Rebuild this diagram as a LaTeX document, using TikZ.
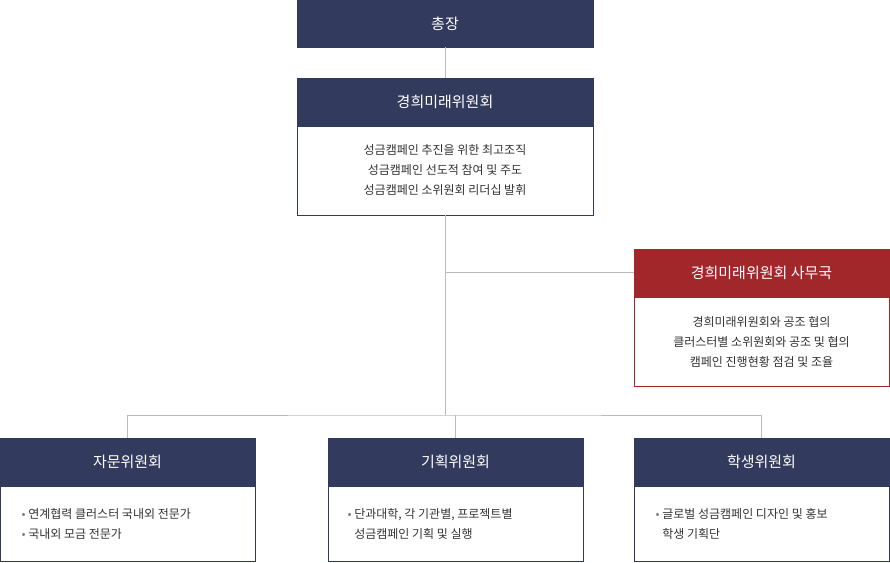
\documentclass[tikz,border=0pt]{standalone}
\usepackage{fontspec}
\setmainfont{Noto Sans CJK KR}
\definecolor{navy}{HTML}{323B5E}
\definecolor{redh}{HTML}{A1272B}
\definecolor{ln}{HTML}{BBBBBB}
\definecolor{tx}{HTML}{333333}
\begin{document}
\begin{tikzpicture}[x=1pt,y=-1pt,
 hdr/.style={draw=navy,fill=navy,text=white,font=\fontsize{15}{18}\selectfont,inner sep=0pt},
 bdy/.style={draw=navy,fill=white,text=tx,font=\fontsize{12}{20}\selectfont,inner sep=0pt},
 con/.style={draw=ln,line width=0.8pt}]
\useasboundingbox (0,0) rectangle (890,562);
% top
\node[hdr,minimum width=296,minimum height=47] (pres) at (445,23.5) {총장};
\node[hdr,minimum width=296,minimum height=48] (fh) at (445,102) {경희미래위원회};
\node[bdy,minimum width=296,minimum height=89,align=center] (fb) at (445,170.5) {성금캠페인 추진을 위한 최고조직\\성금캠페인 선도적 참여 및 주도\\성금캠페인 소위원회 리더십 발휘};
\node[hdr,draw=redh,fill=redh,minimum width=255,minimum height=48] (sh) at (761.5,273) {경희미래위원회 사무국};
\node[bdy,draw=redh,minimum width=255,minimum height=89,align=center] (sb) at (761.5,341.5) {경희미래위원회와 공조 협의\\클러스터별 소위원회와 공조 및 협의\\캠페인 진행현황 점검 및 조율};
\node[hdr,minimum width=255,minimum height=48] (ah) at (127.5,462) {자문위원회};
\node[bdy,minimum width=255,minimum height=75] (ab) at (127.5,523.5) {};
\node[anchor=west,text=tx,font=\fontsize{12}{20}\selectfont,align=left] (at) at (18,523.5) {{\color{gray}•} 연계협력 클러스터 국내외 전문가\\{\color{gray}•} 국내외 모금 전문가};
\node[hdr,minimum width=255,minimum height=48] (ph) at (455.5,462) {기획위원회};
\node[bdy,minimum width=255,minimum height=75] (pb) at (455.5,523.5) {};
\node[anchor=west,text=tx,font=\fontsize{12}{20}\selectfont,align=left] (pt) at (344,523.5) {{\color{gray}•} 단과대학, 각 기관별, 프로젝트별\\\phantom{•} 성금캠페인 기획 및 실행};
\node[hdr,minimum width=255,minimum height=48] (th) at (761.5,462) {학생위원회};
\node[bdy,minimum width=255,minimum height=75] (tb) at (761.5,523.5) {};
\node[anchor=west,text=tx,font=\fontsize{12}{20}\selectfont,align=left] (tt) at (652,523.5) {{\color{gray}•} 글로벌 성금캠페인 디자인 및 홍보\\\phantom{•} 학생 기획단};
\coordinate (j1) at (445,272);
\coordinate (j2) at (445,415);
\draw[con] (pres.south) -- (fh.north);
\draw[con] (fb.south) -- (j2);
\draw[con] (j1) -- (sh.west|-j1);
\draw[con] (ah.north) |- (j2) -| (th.north);
\draw[con] (ph.north) -- (ph.north|-j2);
\end{tikzpicture}
\end{document}
